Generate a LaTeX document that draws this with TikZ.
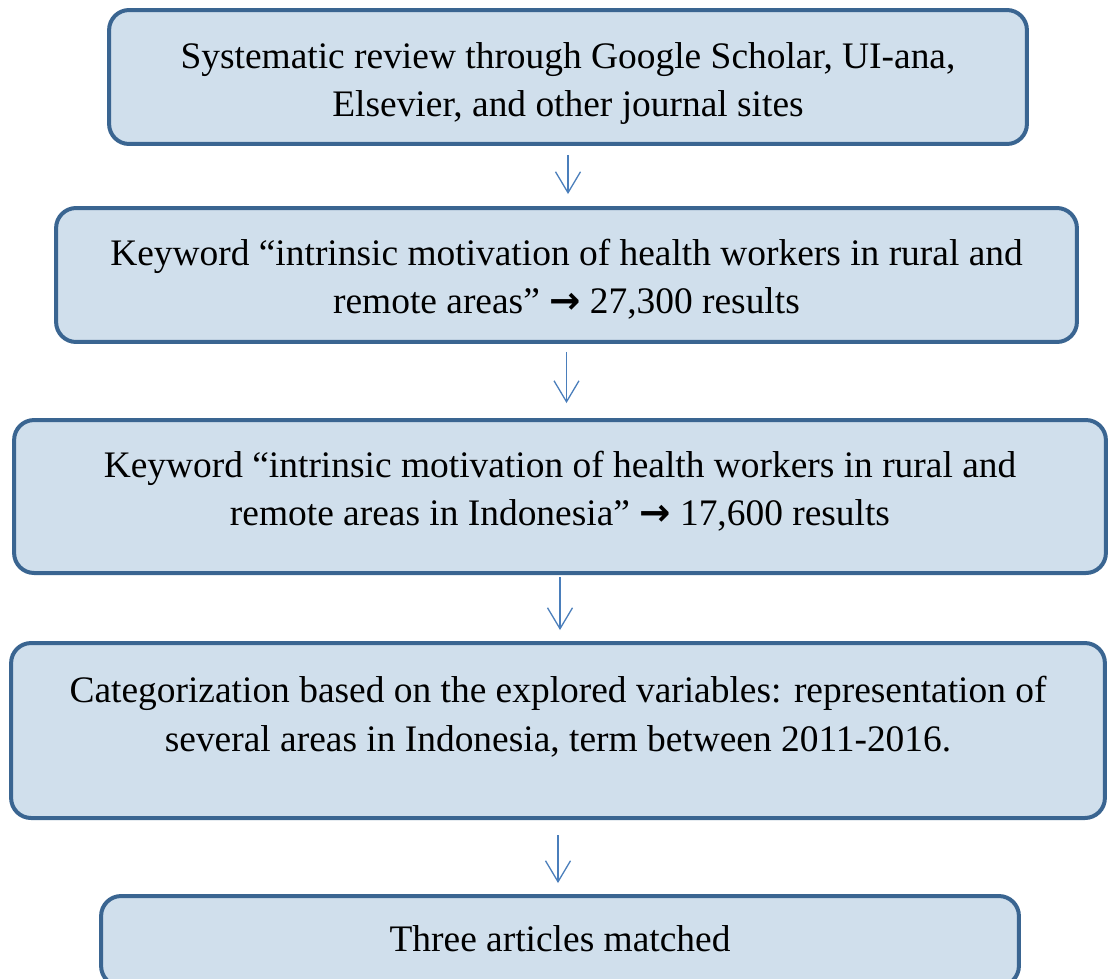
\documentclass[tikz,border=0pt]{standalone}
\usepackage{fontspec}
\setmainfont{Liberation Serif}
\newfontfamily\arrowfont{DejaVu Sans}
\usetikzlibrary{arrows.meta}
\definecolor{boxfill}{HTML}{D0DFEC}
\definecolor{boxline}{HTML}{3A6591}
\definecolor{flowblue}{HTML}{4A7EBB}
\tikzset{
  stage/.style={draw=boxline, fill=boxfill, line width=0.08cm, rounded corners=0.4cm,
    align=center, text height=46pt, font=\fontsize{21.3pt}{27.6pt}\selectfont},
  flow/.style={draw=flowblue, line width=0.026cm, -{Straight Barb[length=0.42cm,width=0.5cm]}}
}
\newcommand{\thickarrow}{{\arrowfont\bfseries →}}
\begin{document}
\begin{tikzpicture}[x=0.02cm, y=-0.02cm]
\useasboundingbox (0,0) rectangle (1114,978);

\node[stage, minimum width=18.36cm, minimum height=2.68cm, text depth=0.6pt] (review) at (568,77)
  {Systematic review through Google Scholar, UI-ana,\\Elsevier, and other journal sites};
\node[stage, minimum width=20.42cm, minimum height=2.68cm, text depth=1.8pt] (kwOne) at (566.5,275)
  {Keyword “intrinsic motivation of health workers in rural and\\remote areas” \thickarrow{} 27,300 results};
\node[stage, minimum width=21.84cm, minimum height=3.06cm, text depth=12.6pt] (kwTwo) at (560,496.5)
  {Keyword “intrinsic motivation of health workers in rural and\\remote areas in Indonesia” \thickarrow{} 17,600 results};
\node[stage, minimum width=21.88cm, minimum height=3.5cm, text depth=22.2pt] (categ) at (558,730.5)
  {Categorization based on the explored variables: representation of\\several areas in Indonesia, term between 2011-2016.};
\node[stage, minimum width=18.36cm, minimum height=1.8cm, text height=15pt, text depth=3.5pt] (matched) at (560,941)
  {Three articles matched};

\draw[flow, shorten <=0.18cm, shorten >=0.24cm] (review.south) -- (review.south |- kwOne.north);
\draw[flow, shorten <=0.16cm, shorten >=0.30cm] (kwOne.south) -- (kwOne.south |- kwTwo.north);
\draw[flow, shorten <=0.04cm, shorten >=0.22cm] (kwTwo.south) -- (kwTwo.south |- categ.north);
\draw[flow, shorten <=0.30cm, shorten >=0.22cm] (categ.south) -- (categ.south |- matched.north);

\end{tikzpicture}
\end{document}
